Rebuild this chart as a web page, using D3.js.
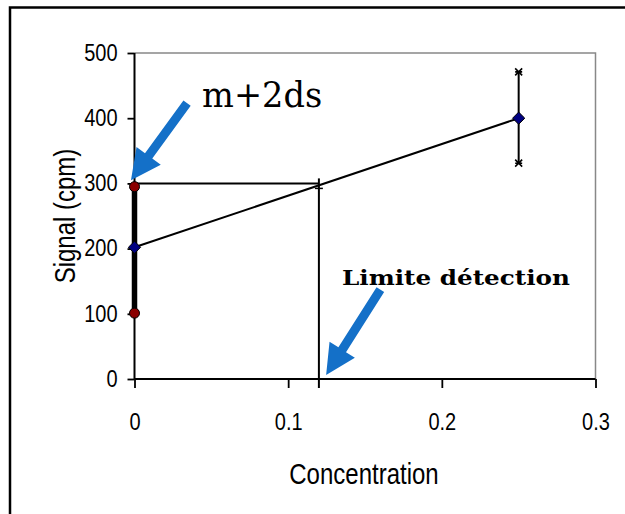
<!DOCTYPE html>
<html>
<head>
<meta charset="utf-8">
<script src="https://cdn.jsdelivr.net/npm/d3@7"></script>
<style>
  body { margin: 0; background: #fff; }
  svg { display: block; }
</style>
</head>
<body>
<div id="chart"></div>
<script>
// ---- data ----
const xTicks = [0, 0.1, 0.2, 0.3];
const yTicks = [0, 100, 200, 300, 400, 500];

// calibration line (blue diamonds)
const concentrations = [0, 0.25];
const signals = [202, 400];
// error bar at the top standard
const errX = 0.25;
const errRange = [331, 471];

// blank replicates at 0 (red dots joined by a thick bar)
const blankSignals = [101, 295];

// detection limit: m+2ds = 300 -> concentration 0.12
const limitConc = 0.12;
const limitSignal = 300;

// annotation arrows [tail, tip] in data units
const arrows = [
  [[0.0342, 423], [-0.0023, 305]],
  [[0.160, 137], [0.1247, 6]]
];
const labels = [
  { text: 'm+2ds', x: 0.044, y: 417, size: 36, len: 120, bold: false },
  { text: 'Limite détection', x: 0.135, y: 144, size: 21, len: 228, bold: true }
];

// ---- layout ----
const W = 625, H = 514;
const plot = { left: 134.5, right: 595.5, top: 53, bottom: 379 };
const sansFont = '"Liberation Sans", Arial, sans-serif';

const svg = d3.select('#chart').append('svg')
  .attr('width', W).attr('height', H);

// outer frame (runs off the right and bottom edges)
svg.append('rect')
  .attr('x', 10).attr('y', 7.5)
  .attr('width', 700).attr('height', 600)
  .attr('fill', '#fff')
  .attr('stroke', '#000').attr('stroke-width', 2.5);

const x = d3.scaleLinear().domain([0, 0.3]).range([plot.left, plot.right]);
const y = d3.scaleLinear().domain([0, 500]).range([plot.bottom, plot.top]);

// plot area border (grey top/right)
svg.append('path')
  .attr('d', `M${plot.left},${plot.top}H${plot.right}V${plot.bottom}`)
  .attr('fill', 'none').attr('stroke', '#888').attr('stroke-width', 1.5);

// axes
const xAxis = svg.append('g')
  .attr('transform', `translate(0,${plot.bottom})`)
  .call(d3.axisBottom(x).tickValues(xTicks).tickFormat(d3.format('')).tickSize(9).tickPadding(16));
const yAxis = svg.append('g')
  .attr('transform', `translate(${plot.left},0)`)
  .call(d3.axisLeft(y).tickValues(yTicks).tickSize(7).tickPadding(10));

[xAxis, yAxis].forEach(g => {
  g.select('.domain').attr('stroke', '#000').attr('stroke-width', 2);
  g.selectAll('.tick line').attr('stroke', '#000').attr('stroke-width', 1.8);
  g.selectAll('text')
    .style('font-family', sansFont)
    .style('font-size', '20px')
    .attr('transform', 'scale(1,1.15)')
    .attr('fill', '#000');
});
xAxis.selectAll('.tick text').attr('y', 30);
xAxis.select('.domain').attr('d', `M${plot.left},0H${plot.right}`);
yAxis.select('.domain').attr('d', `M0,${plot.bottom}V${plot.top}`);

// axis titles
svg.append('text')
  .attr('transform', 'translate(364,484) scale(1,1.22)')
  .attr('text-anchor', 'middle')
  .style('font-family', sansFont)
  .style('font-size', '24px')
  .text('Concentration');
svg.append('text')
  .attr('transform', `translate(75,${(plot.top + plot.bottom) / 2}) rotate(-90) scale(1,1.22)`)
  .attr('text-anchor', 'middle')
  .style('font-family', sansFont)
  .style('font-size', '24px')
  .text('Signal (cpm)');

// detection-limit guide lines
svg.append('line')
  .attr('x1', x(0)).attr('x2', x(limitConc))
  .attr('y1', y(limitSignal)).attr('y2', y(limitSignal))
  .attr('stroke', '#000').attr('stroke-width', 2);
svg.append('line')
  .attr('x1', x(limitConc)).attr('x2', x(limitConc))
  .attr('y1', y(limitSignal) - 5).attr('y2', y(0) + 9)
  .attr('stroke', '#000').attr('stroke-width', 2);
svg.append('line')
  .attr('x1', x(limitConc) - 4).attr('x2', x(limitConc) + 4)
  .attr('y1', y(limitSignal) + 5).attr('y2', y(limitSignal) + 5)
  .attr('stroke', '#000').attr('stroke-width', 1.5);

// blank bar
svg.append('line')
  .attr('x1', x(0)).attr('x2', x(0))
  .attr('y1', y(blankSignals[0])).attr('y2', y(blankSignals[1]))
  .attr('stroke', '#000').attr('stroke-width', 5.5);

// calibration line
const line = d3.line().x((d, i) => x(concentrations[i])).y(d => y(d));
svg.append('path')
  .datum(signals)
  .attr('d', line)
  .attr('fill', 'none').attr('stroke', '#000').attr('stroke-width', 2);

// error bar
svg.append('line')
  .attr('x1', x(errX)).attr('x2', x(errX))
  .attr('y1', y(errRange[0])).attr('y2', y(errRange[1]))
  .attr('stroke', '#000').attr('stroke-width', 2);
errRange.forEach(v => {
  const cx = x(errX), cy = y(v), s = 3.5;
  svg.append('path')
    .attr('d', `M${cx - s},${cy - s}L${cx + s},${cy + s}M${cx - s},${cy + s}L${cx + s},${cy - s}M${cx - s},${cy}H${cx + s}`)
    .attr('stroke', '#000').attr('stroke-width', 1.6).attr('fill', 'none');
});

// markers
blankSignals.forEach(v => {
  svg.append('circle')
    .attr('cx', x(0)).attr('cy', y(v)).attr('r', 5)
    .attr('fill', '#8b0000').attr('stroke', '#000').attr('stroke-width', 1);
});
signals.forEach((v, i) => {
  svg.append('path')
    .attr('d', d3.symbol(d3.symbolDiamond2, 95)())
    .attr('transform', `translate(${x(concentrations[i])},${y(v)})`)
    .attr('fill', '#000080').attr('stroke', '#000').attr('stroke-width', 1);
});

// arrows
const shaftW = 9, headW = 30, headL = 30;
arrows.forEach(([tail, tip]) => {
  const x0 = x(tail[0]), y0 = y(tail[1]), x1 = x(tip[0]), y1 = y(tip[1]);
  const dx = x1 - x0, dy = y1 - y0, L = Math.hypot(dx, dy);
  const ux = dx / L, uy = dy / L, nx = -uy, ny = ux;
  const bx = x1 - ux * headL, by = y1 - uy * headL;
  const pts = [
    [x0 + nx * shaftW / 2, y0 + ny * shaftW / 2],
    [bx + nx * shaftW / 2, by + ny * shaftW / 2],
    [bx + nx * headW / 2, by + ny * headW / 2],
    [x1, y1],
    [bx - nx * headW / 2, by - ny * headW / 2],
    [bx - nx * shaftW / 2, by - ny * shaftW / 2],
    [x0 - nx * shaftW / 2, y0 - ny * shaftW / 2]
  ];
  svg.append('polygon')
    .attr('points', pts.map(p => p.join(',')).join(' '))
    .attr('fill', '#1470c8');
});

// annotation labels
labels.forEach(l => {
  svg.append('text')
    .attr('x', x(l.x)).attr('y', y(l.y))
    .attr('textLength', l.len)
    .attr('lengthAdjust', 'spacingAndGlyphs')
    .style('font-family', '"DejaVu Serif", "Liberation Serif", serif')
    .style('font-size', l.size + 'px')
    .style('font-weight', l.bold ? 'bold' : 'normal')
    .text(l.text);
});
</script>
</body>
</html>
